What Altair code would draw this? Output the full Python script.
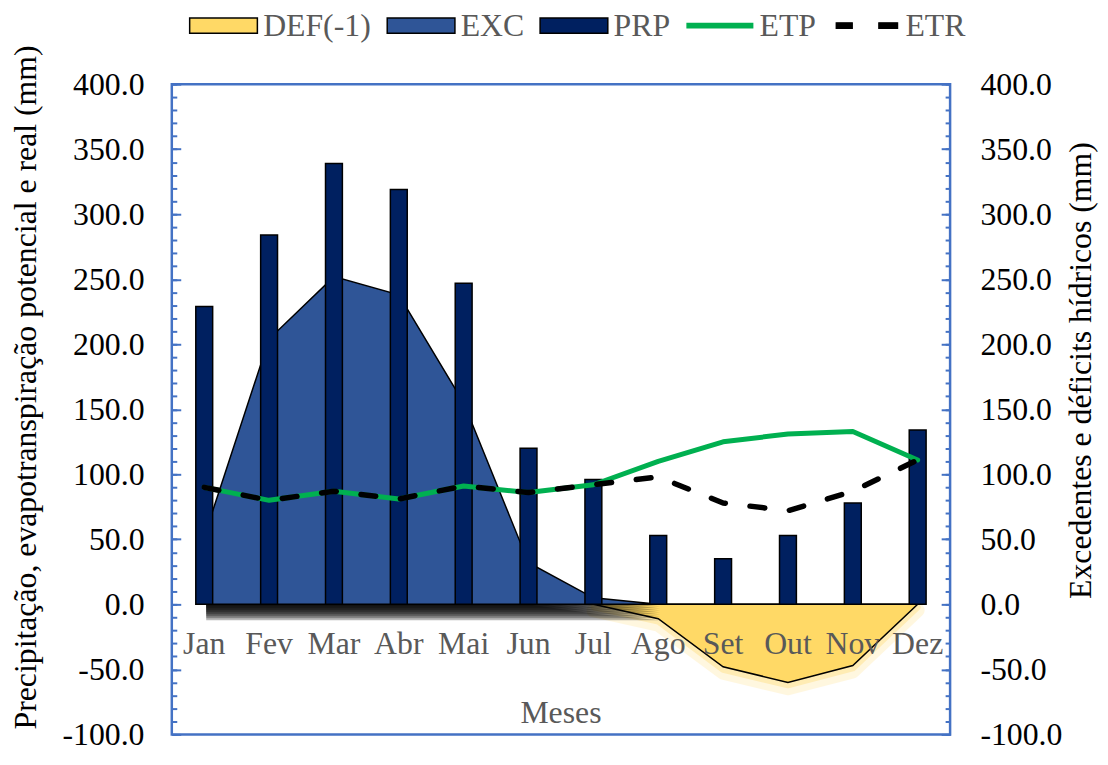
import altair as alt
import pandas as pd

# ---- data ----
months = ["Jan", "Fev", "Mar", "Abr", "Mai", "Jun", "Jul", "Ago", "Set", "Out", "Nov", "Dez"]
prp = [229, 284, 339, 319, 247, 120, 96, 53, 35, 53, 78, 134]
etp = [90, 80, 87, 81, 91, 86, 92, 110, 125, 131, 133, 111]
etr = [90, 80, 87, 81, 91, 86, 92, 98, 78, 72, 87, 111]
exc = [52, 204, 252, 238, 155, 32, 5, 0, 0, 0, 0, 0]
deficit = [0, 0, 0, 0, 0, 0, 0, -11, -48, -60, -47, 0]

series = ["DEF(-1)", "EXC", "PRP", "ETP", "ETR"]
series_fill = ["#FFD966", "#2F5597", "#002060", "#00B050", "#000000"]
series_stroke = ["#000000", "#000000", "#000000", "#00B050", "#000000"]
series_shape = [
    "M-1,-0.7H5.2V0.7H-1Z",
    "M-1,-0.7H5.2V0.7H-1Z",
    "M-1,-0.7H5.2V0.7H-1Z",
    "M-0.9,-0.2H5.1V0.2H-0.9Z",
    "M-0.6,-0.25H0.85V0.25H-0.6Z M3.3,-0.25H5.0V0.25H3.3Z",
]

major_ticks = list(range(-100, 401, 50))
minor_ticks = list(range(-100, 401, 10))

df = pd.DataFrame({
    "mes": months, "idx": list(range(len(months))),
    "prp": prp, "etp": etp, "etr": etr, "exc": exc, "def": deficit,
})
leg_df = pd.DataFrame({"serie": series})

FONT = "Liberation Serif"
W, H = 784, 655
BLUE = "#4472C4"
LBL = "replace(format(datum.value, '.1f'), '\u2212', '-')"

xscale = alt.Scale(type="band", domain=months, paddingInner=0, paddingOuter=0)
yscale = alt.Scale(domain=[-100, 400], nice=False, zero=False)


def X():
    # positions come from the explicit domain; paths follow the (monthly) data order
    return alt.X("mes:N", scale=xscale, sort=None, axis=None)


def Y(field, axis=None):
    if axis is None:
        return alt.Y(field, scale=yscale, axis=None)
    return alt.Y(field, scale=yscale, axis=axis)


left_lab = alt.Axis(
    orient="left", values=major_ticks, labelExpr=LBL, ticks=False, tickSize=0,
    domain=False, grid=False, labelPadding=28, labelFont=FONT, labelFontSize=32,
    labelColor="black",
    title="Precipitação, evapotranspiração potencial e real (mm)",
    titleFont=FONT, titleFontSize=32, titleFontWeight="normal", titleColor="black",
    titlePadding=20, titleY=305,
)
right_lab = alt.Axis(
    orient="right", values=major_ticks, labelExpr=LBL, ticks=False, tickSize=0,
    domain=False, grid=False, labelPadding=30, labelFont=FONT, labelFontSize=32,
    labelColor="black",
    title="Excedentes e déficits hídricos (mm)",
    titleFont=FONT, titleFontSize=32, titleFontWeight="normal", titleColor="black",
    titlePadding=4, titleY=288, titleAngle=270, titleBaseline="top",
)


def tick_axis(orient, values, size):
    return alt.Axis(
        orient=orient, offset=-W, values=values, labels=False, domain=False, grid=False,
        ticks=True, tickSize=size, tickColor=BLUE, tickWidth=2, title=None,
    )


base = alt.Chart(df)

# soft shadow under the surplus area (stacked, shifted copies of its lower band)
shadows = []
for k in range(2, 17, 2):
    shadows.append(
        base.transform_calculate(shade="datum.exc > 0 ? min(datum.exc, 12) : 0")
        .mark_area(color="#000000", fillOpacity=0.28, opacity=1, xOffset=2, yOffset=k, y2Offset=k)
        .encode(x=X(), y=Y("shade:Q"), y2=alt.datum(0))
    )

# yellow glow around the deficit area
glow1 = base.transform_filter("datum.idx >= 6").mark_area(
    color="#FFD966", opacity=0.35, stroke="#FFD966", strokeWidth=6, strokeJoin="round",
    yOffset=3, y2Offset=3,
).encode(x=X(), y=Y("def:Q", tick_axis("right", major_ticks, 9)), y2=alt.datum(0))
glow2 = base.transform_filter("datum.idx >= 6").mark_area(
    color="#FFD966", opacity=0.2, stroke="#FFD966", strokeWidth=14, strokeJoin="round",
    yOffset=6, y2Offset=6,
).encode(x=X(), y=Y("def:Q", tick_axis("right", minor_ticks, 5)), y2=alt.datum(0))

def_area = base.mark_area(color="#FFD966", stroke="black", strokeWidth=1.5).encode(
    x=X(), y=Y("def:Q", tick_axis("left", major_ticks, 9)), y2=alt.datum(0)
)
exc_area = base.mark_area(color="#2F5597", stroke="black", strokeWidth=1.5).encode(
    x=X(), y=Y("exc:Q", left_lab), y2=alt.datum(0)
)
bars = base.mark_bar(color="#002060", stroke="black", strokeWidth=1.5, width=17).encode(
    x=X(), y=Y("prp:Q", right_lab), y2=alt.datum(0)
)
etp_line = base.mark_line(color="#00B050", strokeWidth=5, strokeCap="round", strokeJoin="round").encode(
    x=X(), y=Y("etp:Q", tick_axis("left", minor_ticks, 5))
)
etr_line = base.mark_line(color="black", strokeWidth=5.5, strokeDash=[15, 25], strokeCap="round",
                          strokeJoin="round").encode(
    x=X(), y=Y("etr:Q")
)

# month labels sit just under the zero line (category axis crossing at 0)
month_labels = base.mark_text(
    font=FONT, fontSize=32, color="#595959", baseline="middle", align="center", dy=40
).encode(x=X(), y=alt.YDatum(0, axis=None, scale=yscale), text="mes:N")

leg = dict(
    orient="none", legendX=13, legendY=-75, direction="horizontal", title=None,
    labelFont=FONT, labelFontSize=32, labelColor="#595959", symbolSize=484,
    symbolStrokeWidth=1.5, labelOffset=47, columnPadding=11, labelLimit=300,
    symbolOpacity=1,
)
legend_layer = alt.Chart(leg_df).mark_point(filled=True, clip=True, opacity=1).encode(
    x=alt.value(-2000), y=alt.value(-2000),
    fill=alt.Fill("serie:N", scale=alt.Scale(domain=series, range=series_fill), legend=alt.Legend(**leg)),
    stroke=alt.Stroke("serie:N", scale=alt.Scale(domain=series, range=series_stroke), legend=alt.Legend(**leg)),
    shape=alt.Shape("serie:N", scale=alt.Scale(domain=series, range=series_shape), legend=alt.Legend(**leg)),
)

chart = alt.layer(
    glow1, glow2, def_area, *shadows, exc_area, bars, etp_line, etr_line, month_labels, legend_layer
).resolve_scale(y="shared").resolve_axis(y="independent").properties(
    width=W, height=H, background="white",
    autosize=alt.AutoSizeParams(type="none"),
    padding={"left": 165, "top": 74, "right": 151, "bottom": 16},
    title=alt.TitleParams(
        "Meses", orient="bottom", anchor="middle", frame="group", baseline="middle",
        offset=-37, font=FONT, fontSize=32, fontWeight="normal", color="#595959",
    ),
).configure_view(stroke=BLUE, strokeWidth=2.5)

chart.save("out.html", embed_options={"renderer": "svg", "actions": False})
